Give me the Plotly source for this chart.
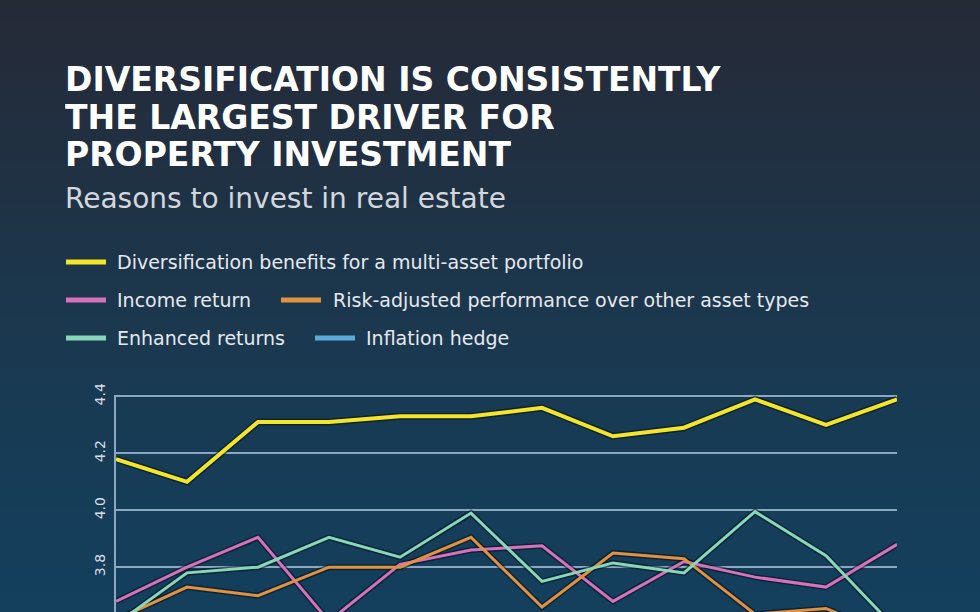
import plotly.graph_objects as go

# ---------------- data ----------------
periods = list(range(1, 13))
series_names = [
    "Diversification benefits for a multi-asset portfolio",
    "Income return",
    "Risk-adjusted performance over other asset types",
    "Enhanced returns",
    "Inflation hedge",
]
diversification = [4.18, 4.10, 4.31, 4.31, 4.33, 4.33, 4.36, 4.26, 4.29, 4.39, 4.30, 4.39]
income_return = [3.68, 3.80, 3.905, 3.61, 3.81, 3.86, 3.875, 3.68, 3.82, 3.765, 3.73, 3.88]
risk_adjusted = [3.615, 3.73, 3.70, 3.80, 3.80, 3.905, 3.66, 3.85, 3.83, 3.635, 3.655, 3.55]
enhanced_returns = [3.60, 3.78, 3.80, 3.905, 3.835, 3.99, 3.75, 3.815, 3.78, 3.995, 3.84, 3.58]
inflation_hedge = [3.50, 3.52, 3.55, 3.48, 3.53, 3.56, 3.50, 3.47, 3.52, 3.55, 3.49, 3.51]
y_ticks = [3.8, 4.0, 4.2, 4.4]
y_tick_labels = ["3.8", "4.0", "4.2", "4.4"]

colors = ["#f3e62a", "#d672b9", "#e0923f", "#86d8b8", "#5ba9dd"]
values = [diversification, income_return, risk_adjusted, enhanced_returns, inflation_hedge]
widths = [4, 3, 3, 3, 3]

# ---------------- layout geometry ----------------
W, H = 980, 612
L, R, T, B = 116, 83, 395, 0
PW, PH = W - L - R, H - T - B


def px(x):
    return (x - L) / PW


def py(y):
    return (H - B - y) / PH


fig = go.Figure()

# shadows then lines
for vals, col, w in zip(values, colors, widths):
    fig.add_trace(go.Scatter(x=periods, y=vals, mode="lines",
                             line=dict(color="rgba(5,15,30,0.55)", width=w + 3),
                             hoverinfo="skip", showlegend=False))
for name, vals, col, w in zip(series_names, values, colors, widths):
    fig.add_trace(go.Scatter(x=periods, y=vals, mode="lines", name=name,
                             line=dict(color=col, width=w), showlegend=False))

# gradient background bands
shapes = []
top_c = (38, 42, 55)
mid_c = (26, 58, 82)
bot_c = (20, 64, 94)
n = 60
for i in range(n):
    y0 = i * H / n
    y1 = (i + 1) * H / n
    t = (y0 + y1) / 2 / H
    if t < 0.6:
        f = t / 0.6
        c = tuple(int(top_c[k] + (mid_c[k] - top_c[k]) * f) for k in range(3))
    else:
        f = (t - 0.6) / 0.4
        c = tuple(int(mid_c[k] + (bot_c[k] - mid_c[k]) * f) for k in range(3))
    shapes.append(dict(type="rect", xref="paper", yref="paper", layer="below",
                       x0=px(0), x1=px(W), y0=py(y1 + 0.5), y1=py(y0 - 0.5),
                       fillcolor="rgb(%d,%d,%d)" % c, line=dict(width=0)))

# custom legend
legend_rows = [
    [(0, 66, 117)],
    [(1, 66, 117), (2, 281, 333)],
    [(3, 66, 117), (4, 315, 366)],
]
legend_y = [262, 300, 338]
annotations = []
for row, yy in zip(legend_rows, legend_y):
    for idx, sx, tx in row:
        shapes.append(dict(type="line", xref="paper", yref="paper",
                           x0=px(sx), x1=px(sx + 40), y0=py(yy), y1=py(yy),
                           line=dict(color=colors[idx], width=5)))
        annotations.append(dict(xref="paper", yref="paper", x=px(tx - 2), y=py(yy),
                                xanchor="left", yanchor="middle", showarrow=False,
                                text=series_names[idx],
                                font=dict(family="DejaVu Sans", size=19, color="#e6e9ee")))

title_lines = ["DIVERSIFICATION IS CONSISTENTLY", "THE LARGEST DRIVER FOR", "PROPERTY INVESTMENT"]
for line, yy in zip(title_lines, [79, 117, 155]):
    annotations.append(dict(xref="paper", yref="paper", x=px(63), y=py(yy),
                            xanchor="left", yanchor="middle", showarrow=False,
                            height=37, valign="middle",
                            text="<b>" + line + "</b>",
                            font=dict(family="DejaVu Sans", size=33, color="#ffffff")))
annotations.append(dict(xref="paper", yref="paper", x=px(63), y=py(199),
                        xanchor="left", yanchor="middle", showarrow=False,
                        text="Reasons to invest in real estate",
                        font=dict(family="DejaVu Sans", size=28, color="#d3d7dd")))

fig.update_layout(
    width=W, height=H,
    margin=dict(l=L, r=R, t=T, b=B, pad=0),
    paper_bgcolor="rgb(30,50,70)",
    plot_bgcolor="rgba(0,0,0,0)",
    shapes=shapes,
    annotations=annotations,
    showlegend=False,
    xaxis=dict(range=[1, 12], showgrid=False, zeroline=False, showticklabels=False,
               showline=False, fixedrange=True),
    yaxis=dict(range=[3.6425, 4.405], tickvals=y_ticks, ticktext=y_tick_labels,
               tickangle=-90, showgrid=True, gridcolor="#8ba8c0", gridwidth=2,
               zeroline=False, showline=True, linecolor="#8ba8c0", linewidth=2,
               ticks="", ticklabelstandoff=3,
               tickfont=dict(family="DejaVu Sans", size=14, color="#d8dde3"),
               fixedrange=True),
)

fig.write_html("out.html", config={"displayModeBar": False},
               post_script="document.body.style.margin='0px';")
